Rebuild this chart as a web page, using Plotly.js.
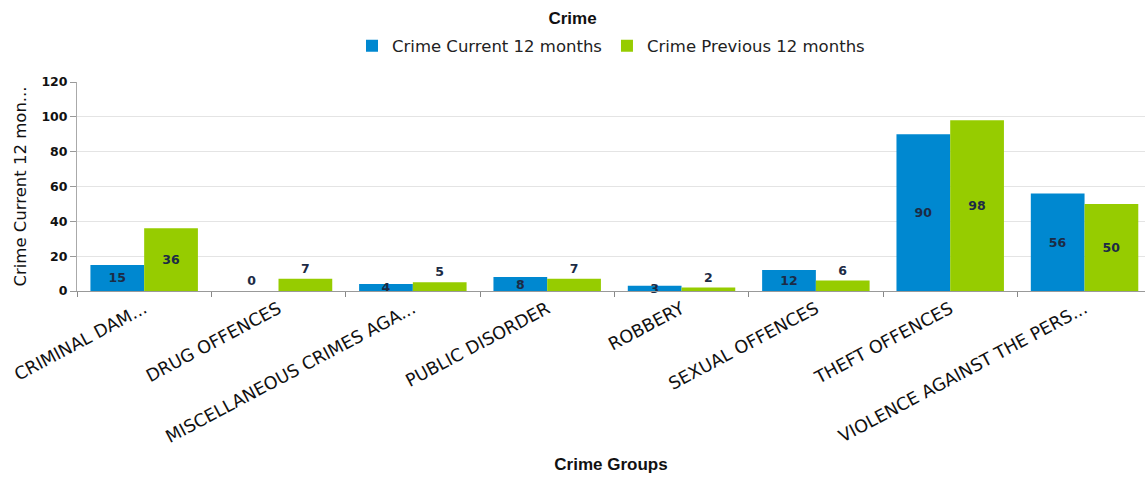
<!DOCTYPE html>
<html>
<head>
<meta charset="utf-8">
<script src="https://cdn.plot.ly/plotly-3.0.1.min.js"></script>
<style>html,body{margin:0;padding:0;background:#fff;}#chart{width:1145px;height:480px;}</style>
</head>
<body>
<div id="chart"></div>
<script>
var categories = ["CRIMINAL DAM...", "DRUG OFFENCES", "MISCELLANEOUS CRIMES AGA...", "PUBLIC DISORDER", "ROBBERY", "SEXUAL OFFENCES", "THEFT OFFENCES", "VIOLENCE AGAINST THE PERS..."];
var currentValues = [15, 0, 4, 8, 3, 12, 90, 56];
var previousValues = [36, 7, 5, 7, 2, 6, 98, 50];
var seriesNames = ["Crime Current 12 months", "Crime Previous 12 months"];
var yTicks = [0, 20, 40, 60, 80, 100, 120];

var labelFont = {family: "DejaVu Sans", size: 12.5, color: "#1c2b45", weight: "bold"};

var traces = [
  {type: "bar", name: seriesNames[0], x: categories, y: currentValues,
   marker: {color: "#0088d0"}, text: currentValues.map(String),
   textposition: currentValues.map(function (v) { return v === 0 ? "outside" : "inside"; }),
   insidetextanchor: "middle", textangle: 0, constraintext: "none",
   textfont: labelFont, insidetextfont: labelFont, outsidetextfont: labelFont, cliponaxis: false},
  {type: "bar", name: seriesNames[1], x: categories, y: previousValues,
   marker: {color: "#96cc00"}, text: previousValues.map(String), textposition: "auto",
   insidetextanchor: "middle", textangle: 0, constraintext: "none",
   textfont: labelFont, insidetextfont: labelFont, outsidetextfont: labelFont, cliponaxis: false}
];

var layout = {
  width: 1145, height: 480,
  margin: {l: 77, r: 0, t: 82, b: 189},
  paper_bgcolor: "#fff", plot_bgcolor: "#fff",
  barmode: "group", bargap: 0.2, bargroupgap: 0,
  title: {text: "Crime", x: 0.5, xanchor: "center", y: 0.962, yanchor: "middle",
          font: {family: "Liberation Sans", size: 17, color: "#111", weight: "bold"}},
  showlegend: true,
  legend: {orientation: "h", x: 0.5, xanchor: "center", y: 1.172, yanchor: "middle",
           font: {family: "DejaVu Sans", size: 16.5, color: "#222"},
           itemwidth: 30, tracegroupgap: 0},
  xaxis: {
    type: "category", range: [-0.5, 7.45], tickangle: -28, tickson: "boundaries", ticks: "outside", ticklen: 5,
    tickcolor: "#888", showline: true, linecolor: "#999", showgrid: false,
    tickfont: {family: "DejaVu Sans", size: 17.5, color: "#111"},
    title: {text: "Crime Groups", standoff: 12, font: {family: "Liberation Sans", size: 17, color: "#111", weight: "bold"}},
    automargin: false
  },
  yaxis: {
    range: [0, 120], tickvals: yTicks, ticks: "outside", ticklen: 6, tickcolor: "#999",
    showline: true, linecolor: "#aaa", gridcolor: "#e4e4e4", zeroline: false,
    tickfont: {family: "DejaVu Sans", size: 12.5, color: "#111", weight: "bold"},
    title: {text: "Crime Current 12 mon...", standoff: 10, font: {family: "DejaVu Sans", size: 16.5, color: "#111"}},
    automargin: false
  }
};

Plotly.newPlot("chart", traces, layout, {displayModeBar: false, staticPlot: true});
</script>
</body>
</html>
